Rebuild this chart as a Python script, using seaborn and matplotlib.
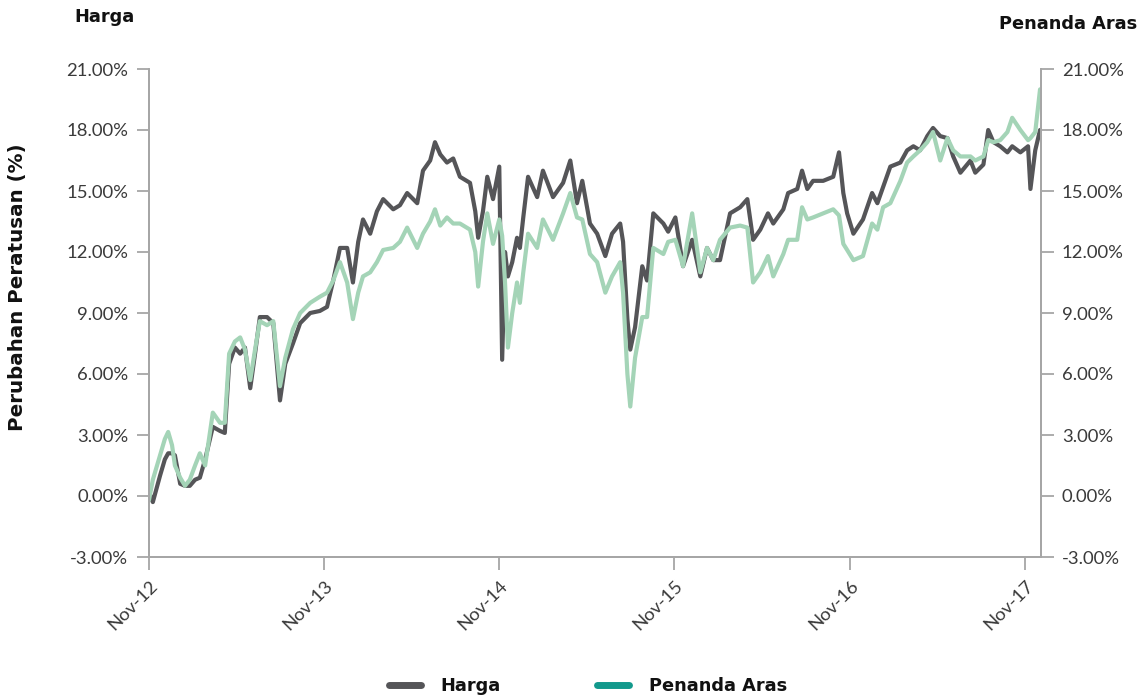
import matplotlib
matplotlib.use("Agg")
import matplotlib.pyplot as plt
import matplotlib.dates as mdates
from matplotlib.lines import Line2D
from matplotlib.ticker import FuncFormatter, FixedLocator
import seaborn as sns
import pandas as pd
import numpy as np

# ---------------- data ----------------
dates = [
    "2012-11-01", "2012-11-09", "2012-11-24", "2012-12-04", "2012-12-11", "2012-12-19", "2012-12-25",
    "2013-01-05", "2013-01-15", "2013-01-25", "2013-02-05", "2013-02-15", "2013-02-26", "2013-03-14",
    "2013-03-29", "2013-04-08", "2013-04-17", "2013-04-29", "2013-05-10", "2013-05-20", "2013-05-31",
    "2013-06-10", "2013-06-20", "2013-07-05", "2013-07-18", "2013-08-01", "2013-08-12", "2013-08-28",
    "2013-09-12", "2013-10-03", "2013-10-23", "2013-11-07", "2013-11-20", "2013-12-04", "2013-12-19",
    "2013-12-31", "2014-01-11", "2014-01-21", "2014-02-05", "2014-02-19", "2014-03-04", "2014-03-25",
    "2014-04-08", "2014-04-23", "2014-05-14", "2014-05-26", "2014-06-10", "2014-06-20", "2014-07-01",
    "2014-07-15", "2014-07-28", "2014-08-11", "2014-09-01", "2014-09-12", "2014-09-18", "2014-09-28",
    "2014-10-07", "2014-10-19", "2014-11-01", "2014-11-07", "2014-11-13", "2014-11-19", "2014-11-28",
    "2014-12-08", "2014-12-14", "2014-12-21", "2014-12-31", "2015-01-19", "2015-01-31", "2015-02-21",
    "2015-03-14", "2015-03-29", "2015-04-12", "2015-04-23", "2015-05-09", "2015-05-24", "2015-06-10",
    "2015-06-24", "2015-07-11", "2015-07-17", "2015-07-26", "2015-08-01", "2015-08-11", "2015-08-26",
    "2015-09-05", "2015-09-18", "2015-10-09", "2015-10-19", "2015-11-03", "2015-11-19", "2015-12-08",
    "2015-12-25", "2016-01-08", "2016-01-21", "2016-02-04", "2016-02-25", "2016-03-17", "2016-04-01",
    "2016-04-13", "2016-04-28", "2016-05-14", "2016-05-25", "2016-06-15", "2016-06-25", "2016-07-14",
    "2016-07-24", "2016-08-04", "2016-08-16", "2016-09-06", "2016-09-27", "2016-10-09", "2016-10-18",
    "2016-10-26", "2016-11-08", "2016-11-28", "2016-12-17", "2016-12-28", "2017-01-09", "2017-01-24",
    "2017-02-14", "2017-02-28", "2017-03-13", "2017-03-27", "2017-04-11", "2017-04-23", "2017-05-08",
    "2017-05-23", "2017-06-04", "2017-06-19", "2017-07-10", "2017-07-20", "2017-08-06", "2017-08-16",
    "2017-08-27", "2017-09-10", "2017-09-25", "2017-10-05", "2017-10-22", "2017-11-07", "2017-11-12",
    "2017-11-22", "2017-12-02",
]

harga = [
    0.2, -0.3, 1.0, 1.8, 2.1, 2.1, 2.0,
    0.6, 0.5, 0.5, 0.8, 0.9, 1.8, 3.4,
    3.2, 3.1, 6.5, 7.3, 7.0, 7.3, 5.3,
    7.0, 8.8, 8.8, 8.5, 4.7, 6.5, 7.5,
    8.5, 9.0, 9.1, 9.3, 10.6, 12.2, 12.2,
    10.5, 12.5, 13.6, 12.9, 14.0, 14.6, 14.1,
    14.3, 14.9, 14.4, 16.0, 16.5, 17.4, 16.8,
    16.4, 16.6, 15.7, 15.4, 14.0, 12.7, 14.0,
    15.7, 14.6, 16.2, 6.7, 12.0, 10.8, 11.5,
    12.7, 12.2, 13.7, 15.7, 14.7, 16.0, 14.7,
    15.4, 16.5, 14.4, 15.5, 13.4, 12.9, 11.8,
    12.9, 13.4, 12.5, 8.7, 7.2, 8.3, 11.3,
    10.6, 13.9, 13.4, 13.0, 13.7, 11.3, 12.6,
    10.8, 12.2, 11.6, 11.6, 13.9, 14.2, 14.6,
    12.6, 13.1, 13.9, 13.4, 14.1, 14.9, 15.1,
    16.0, 15.1, 15.5, 15.5, 15.7, 16.9, 14.9,
    13.9, 12.9, 13.6, 14.9, 14.4, 15.2, 16.2,
    16.4, 17.0, 17.2, 17.0, 17.7, 18.1, 17.7,
    17.6, 16.7, 15.9, 16.5, 15.9, 16.3, 18.0,
    17.4, 17.2, 16.9, 17.2, 16.9, 17.2, 15.1,
    17.0, 18.0,
]

penanda_aras = [
    -0.2, 0.8, 2.0, 2.8, 3.15, 2.5, 1.5,
    0.9, 0.5, 0.8, 1.5, 2.1, 1.5, 4.1,
    3.6, 3.6, 7.0, 7.6, 7.8, 7.2, 5.7,
    7.2, 8.6, 8.4, 8.6, 5.4, 6.8, 8.2,
    9.0, 9.5, 9.8, 10.0, 10.6, 11.5, 10.5,
    8.7, 10.0, 10.8, 11.0, 11.5, 12.1, 12.2,
    12.5, 13.2, 12.2, 12.9, 13.5, 14.1, 13.3,
    13.7, 13.4, 13.4, 13.1, 12.0, 10.3, 12.5,
    13.9, 12.4, 13.6, 12.8, 10.5, 7.3, 9.0,
    10.5, 9.5, 11.0, 12.9, 12.2, 13.6, 12.6,
    13.9, 14.9, 13.7, 13.6, 11.9, 11.5, 10.0,
    10.8, 11.5, 10.0, 6.0, 4.4, 6.8, 8.8,
    8.8, 12.2, 11.9, 12.5, 12.6, 11.3, 13.9,
    11.0, 12.2, 11.6, 12.6, 13.2, 13.3, 13.2,
    10.5, 11.0, 11.8, 10.8, 11.9, 12.6, 12.6,
    14.2, 13.6, 13.7, 13.9, 14.1, 13.8, 12.4,
    12.1, 11.6, 11.8, 13.4, 13.1, 14.2, 14.4,
    15.5, 16.4, 16.7, 17.0, 17.4, 17.9, 16.5,
    17.6, 17.0, 16.7, 16.7, 16.5, 16.7, 17.5,
    17.4, 17.5, 17.9, 18.6, 18.0, 17.5, 17.6,
    17.9, 20.0,
]

series_names = ["Harga", "Penanda Aras"]
tick_dates = ["2012-11-01", "2013-11-01", "2014-11-01", "2015-11-01", "2016-11-01", "2017-11-01"]
tick_labels = ["Nov-12", "Nov-13", "Nov-14", "Nov-15", "Nov-16", "Nov-17"]
y_ticks = [-3, 0, 3, 6, 9, 12, 15, 18, 21]

# ---------------- style ----------------
sns.set_theme(style="white")
plt.rcParams["font.family"] = ["Lato", "DejaVu Sans"]

DARK = "#555558"
GREEN = "#a4d4b7"
TEAL = "#12998c"
AXC = "#a6a6a6"
TXT = "#3a3a3a"
BOLD_FONT = ["DejaVu Sans"]

df = pd.DataFrame({
    "date": pd.to_datetime(dates),
    "Harga": harga,
    "Penanda Aras": penanda_aras,
})

fig = plt.figure(figsize=(11.4, 7.0), dpi=100)
ax = fig.add_axes([149 / 1140, 1 - 557 / 700, (1041 - 149) / 1140, (557 - 69) / 700])

sns.lineplot(data=df, x="date", y="Harga", ax=ax, color=DARK, linewidth=3.0, legend=False)
sns.lineplot(data=df, x="date", y="Penanda Aras", ax=ax, color=GREEN, linewidth=3.0, legend=False)

ax.set_xlim(pd.Timestamp("2012-11-01"), pd.Timestamp("2017-12-04"))
ax.set_ylim(-3, 21)
ax.set_xlabel("")
ax.set_ylabel("")

TICK_SIZE = 13.3
ax.xaxis.set_major_locator(FixedLocator(mdates.date2num(pd.to_datetime(tick_dates))))
ax.set_xticklabels(tick_labels, rotation=45, ha="right", va="top", rotation_mode="anchor",
                   fontsize=TICK_SIZE, color=TXT)
ax.set_yticks(y_ticks)
fmt = FuncFormatter(lambda v, p: f"{v:.2f}%")
ax.yaxis.set_major_formatter(fmt)

ax2 = ax.twinx()
ax2.set_position(ax.get_position())
ax2.set_ylim(-3, 21)
ax2.set_yticks(y_ticks)
ax2.yaxis.set_major_formatter(fmt)
ax2.grid(False)

for a in (ax, ax2):
    a.spines["top"].set_visible(False)
    for s in ["left", "right", "bottom"]:
        a.spines[s].set_color(AXC)
        a.spines[s].set_linewidth(1.3)
    a.tick_params(axis="both", which="major", length=9, width=1.3, color=AXC,
                  labelsize=TICK_SIZE, labelcolor=TXT, pad=6, direction="out")
ax.tick_params(axis="y", left=True, right=False)
ax.tick_params(axis="x", bottom=True, pad=6)
ax2.tick_params(axis="y", right=True, left=False)
ax.grid(False)

# axis titles
fig.text(105 / 1140, 1 - 17 / 700, "Harga", ha="center", va="center",
         fontsize=12.8, fontweight="bold", color="#111111", family=BOLD_FONT)
fig.text(1137 / 1140, 1 - 24 / 700, "Penanda Aras", ha="right", va="center",
         fontsize=12.8, fontweight="bold", color="#111111", family=BOLD_FONT)
fig.text(18 / 1140, 1 - 287 / 700, "Perubahan Peratusan (%)", ha="center", va="center",
         rotation=90, fontsize=14.3, fontweight="bold", color="#111111", family=BOLD_FONT)

# legend
handles = [Line2D([0], [0], color=DARK, lw=5, solid_capstyle="round"),
           Line2D([0], [0], color=TEAL, lw=5, solid_capstyle="round")]
leg = fig.legend(handles, series_names, loc="center", bbox_to_anchor=(588 / 1140, 1 - 686 / 700),
                 ncol=2, frameon=False, handlelength=1.8, handletextpad=1.1, columnspacing=5.4,
                 prop={"weight": "bold", "size": 12.8, "family": BOLD_FONT})
for t in leg.get_texts():
    t.set_color("#111111")

fig.savefig("out.png", dpi=100)
